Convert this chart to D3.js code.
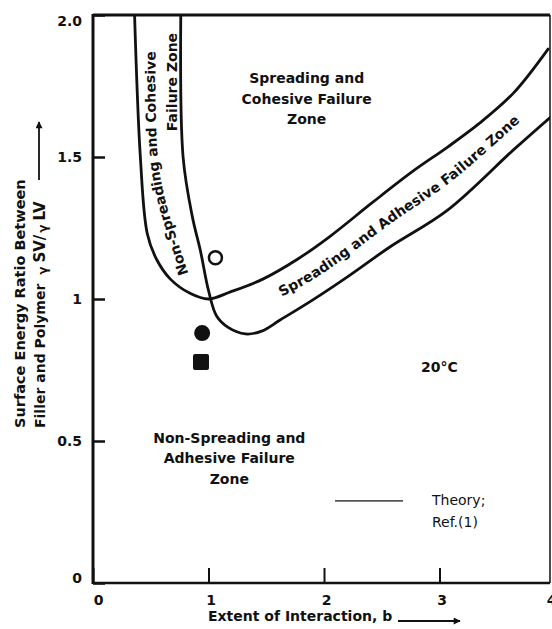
<!DOCTYPE html>
<html>
<head>
<meta charset="utf-8">
<script src="https://cdn.jsdelivr.net/npm/d3@7/dist/d3.min.js"></script>
<style>
  body { margin: 0; background: #fff; }
  text { font-family: 'DejaVu Sans', sans-serif; fill: #111; }
</style>
</head>
<body>
<div id="chart"></div>
<script>
// curve A: left wall of the cohesive band, then upper edge of the adhesive band
const curveA = [
  [0.36, 2.0], [0.41, 1.5], [0.47, 1.23], [0.55, 1.14], [0.67, 1.07],
  [0.84, 1.02], [1.0, 1.0], [1.19, 1.025], [1.47, 1.07], [1.77, 1.14],
  [2.05, 1.22], [2.42, 1.34], [2.77, 1.45], [3.07, 1.535], [3.35, 1.62],
  [3.64, 1.725], [3.94, 1.88]
]
// curve B: right wall of the cohesive band, then lower edge of the adhesive band
const curveB = [
  [0.76, 2.0], [0.78, 1.5], [0.86, 1.29], [0.93, 1.17], [1.0, 1.03],
  [1.07, 0.94], [1.17, 0.9], [1.32, 0.877], [1.46, 0.887], [1.62, 0.926],
  [1.9, 0.996], [2.2, 1.077], [2.57, 1.183], [3.07, 1.313], [3.64, 1.525],
  [3.96, 1.64]
]

// measured points
const openCircles = [[1.06, 1.145]]
const filledCircles = [[0.945, 0.88]]
const filledSquares = [[0.935, 0.778]]

const xTicks = [0, 1, 2, 3, 4]
const xTickLabels = ['0', '1', '2', '3', '4']
const yTicks = [0, 0.5, 1, 1.5, 2]
const yTickLabels = ['0', '0.5', '1', '1.5', '2.0']

const width = 552
const height = 629
const plot = { left: 93, top: 15, right: 550, bottom: 583 }

const svg = d3
  .select('#chart')
  .append('svg')
  .attr('width', width)
  .attr('height', height)

// the original is cropped a little before b = 4
const x = d3.scaleLinear().domain([0, 4]).range([plot.left, 555])
const y = d3.scaleLinear().domain([0, 2]).range([plot.bottom, plot.top])

const defs = svg.append('defs')
defs.append('clipPath')
  .attr('id', 'plot-clip')
  .append('rect')
  .attr('x', plot.left)
  .attr('y', plot.top)
  .attr('width', plot.right - plot.left)
  .attr('height', plot.bottom - plot.top)

defs.append('marker')
  .attr('id', 'arrow')
  .attr('viewBox', '0 0 10 10')
  .attr('refX', 9)
  .attr('refY', 5)
  .attr('markerWidth', 9)
  .attr('markerHeight', 7)
  .attr('markerUnits', 'userSpaceOnUse')
  .attr('orient', 'auto')
  .append('path')
  .attr('d', 'M0,0L10,5L0,10z')
  .attr('fill', '#111')

// axes
const yAxis = svg.append('g')
  .attr('transform', `translate(${plot.left},0)`)
  .call(d3.axisLeft(y)
    .tickValues(yTicks)
    .tickFormat((d, i) => yTickLabels[i])
    .tickSize(-12)
    .tickPadding(11))
yAxis.select('.domain').remove()
yAxis.selectAll('line').attr('stroke', '#111').attr('stroke-width', 2.5)
yAxis.selectAll('text')
  .attr('font-size', 14)
  .attr('font-weight', 'bold')
  .attr('font-family', 'DejaVu Sans')
  .attr('dy', (d, i) => i === 0 ? '-0.05em' : i === yTicks.length - 1 ? '0.75em' : '0.32em')

const xAxis = svg.append('g')
  .attr('transform', `translate(0,${plot.bottom})`)
  .call(d3.axisBottom(x)
    .tickValues(xTicks)
    .tickFormat((d, i) => xTickLabels[i])
    .tickSize(-15)
    .tickPadding(12))
xAxis.select('.domain').remove()
xAxis.selectAll('line').attr('stroke', '#111').attr('stroke-width', 2)
xAxis.selectAll('text')
  .attr('font-size', 14)
  .attr('font-weight', 'bold')
  .attr('font-family', 'DejaVu Sans')
  .attr('dx', (d, i) => i === 0 ? 5 : i === xTicks.length - 1 ? -4 : 2)

// frame
const frame = svg.append('g').attr('stroke', '#111').attr('fill', 'none')
frame.append('line')
  .attr('x1', plot.left).attr('x2', plot.left)
  .attr('y1', plot.top - 1).attr('y2', plot.bottom + 1)
  .attr('stroke-width', 3)
frame.append('line')
  .attr('x1', plot.left).attr('x2', plot.right)
  .attr('y1', plot.bottom).attr('y2', plot.bottom)
  .attr('stroke-width', 2.5)
frame.append('line')
  .attr('x1', plot.left).attr('x2', plot.right)
  .attr('y1', plot.top).attr('y2', plot.top)
  .attr('stroke-width', 3)
frame.append('line')
  .attr('x1', plot.right).attr('x2', plot.right)
  .attr('y1', plot.top).attr('y2', plot.bottom)
  .attr('stroke-width', 1.5)

// theory curves
const line = d3.line()
  .x(d => x(d[0]))
  .y(d => y(d[1]))
  .curve(d3.curveCatmullRom.alpha(0.5))

svg.append('g')
  .attr('clip-path', 'url(#plot-clip)')
  .selectAll('.theory')
  .data([curveA, curveB])
  .enter()
  .append('path')
  .attr('class', 'theory')
  .attr('d', line)
  .attr('fill', 'none')
  .attr('stroke', '#111')
  .attr('stroke-width', 2.8)
  .attr('stroke-linecap', 'round')

// data points
svg.selectAll('.open-pt')
  .data(openCircles)
  .enter()
  .append('circle')
  .attr('class', 'open-pt')
  .attr('cx', d => x(d[0]))
  .attr('cy', d => y(d[1]))
  .attr('r', 6.5)
  .attr('fill', '#fff')
  .attr('stroke', '#111')
  .attr('stroke-width', 2.5)

svg.selectAll('.dot-pt')
  .data(filledCircles)
  .enter()
  .append('circle')
  .attr('class', 'dot-pt')
  .attr('cx', d => x(d[0]))
  .attr('cy', d => y(d[1]))
  .attr('r', 8)
  .attr('fill', '#111')

svg.selectAll('.sq-pt')
  .data(filledSquares)
  .enter()
  .append('rect')
  .attr('class', 'sq-pt')
  .attr('x', d => x(d[0]) - 8)
  .attr('y', d => y(d[1]) - 8)
  .attr('width', 16)
  .attr('height', 16)
  .attr('rx', 2)
  .attr('fill', '#111')

// zone labels
function block (lines, bx, by, bold) {
  const t = svg.append('text')
    .attr('x', x(bx))
    .attr('y', y(by))
    .attr('text-anchor', 'middle')
    .attr('font-size', 14)
    .attr('font-weight', bold ? 'bold' : 'normal')
  lines.forEach((s, i) => {
    t.append('tspan')
      .attr('x', x(bx))
      .attr('dy', i === 0 ? 0 : 20.5)
      .text(s)
  })
  return t
}

block(['Spreading and', 'Cohesive Failure', 'Zone'], 1.85, 1.76, true)
block(['Non-Spreading and', 'Adhesive Failure', 'Zone'], 1.18, 0.493, true)
block(['20°C'], 3.0, 0.743, true)

// labels that follow the bands
const cohesiveGuide = [[0.82, 1.045], [0.69, 1.2], [0.58, 1.35], [0.52, 1.49], [0.5, 1.66], [0.5, 1.95]]
const adhesiveGuide = [[1.6, 1.02], [1.9, 1.088], [2.2, 1.173], [2.57, 1.285], [3.07, 1.426], [3.64, 1.627], [3.87, 1.711]]

const guide = d3.line()
  .x(d => x(d[0]))
  .y(d => y(d[1]))
  .curve(d3.curveCatmullRom.alpha(0.5))

defs.append('path').attr('id', 'cohesive-guide').attr('d', guide(cohesiveGuide))
defs.append('path').attr('id', 'adhesive-guide').attr('d', guide(adhesiveGuide))

svg.append('text')
  .attr('font-size', 14)
  .attr('font-weight', 'bold')
  .attr('dominant-baseline', 'central')
  .append('textPath')
  .attr('href', '#cohesive-guide')
  .attr('startOffset', '48%')
  .attr('text-anchor', 'middle')
  .text('Non-Spreading and Cohesive')

svg.append('text')
  .attr('transform', `translate(${x(0.68)},${y(1.764)}) rotate(-90)`)
  .attr('text-anchor', 'middle')
  .attr('dominant-baseline', 'central')
  .attr('font-size', 14)
  .attr('font-weight', 'bold')
  .text('Failure Zone')

svg.append('text')
  .attr('font-size', 14)
  .attr('font-weight', 'bold')
  .attr('dominant-baseline', 'central')
  .append('textPath')
  .attr('href', '#adhesive-guide')
  .attr('startOffset', 2)
  .text('Spreading and Adhesive Failure Zone')

// legend
svg.append('line')
  .attr('x1', x(2.095))
  .attr('x2', x(2.684))
  .attr('y1', y(0.289))
  .attr('y2', y(0.289))
  .attr('stroke', '#555')
  .attr('stroke-width', 1.6)

svg.append('text')
  .attr('x', x(2.935))
  .attr('y', y(0.275))
  .attr('font-size', 14)
  .text('Theory;')
svg.append('text')
  .attr('x', x(2.935))
  .attr('y', y(0.197))
  .attr('font-size', 14)
  .text('Ref.(1)')

// axis titles
svg.append('text')
  .attr('x', 208)
  .attr('y', 621)
  .attr('font-size', 14)
  .attr('font-weight', 'bold')
  .text('Extent of Interaction, b')
svg.append('line')
  .attr('x1', 398).attr('x2', 460)
  .attr('y1', 621).attr('y2', 621)
  .attr('stroke', '#111')
  .attr('stroke-width', 1.8)
  .attr('marker-end', 'url(#arrow)')

svg.append('text')
  .attr('transform', 'translate(25,428) rotate(-90)')
  .attr('font-size', 14.5)
  .attr('font-weight', 'bold')
  .text('Surface Energy Ratio Between')

const yt = svg.append('text')
  .attr('transform', 'translate(45,428) rotate(-90)')
  .attr('font-size', 14)
  .attr('font-weight', 'bold')
yt.append('tspan').text('Filler and Polymer ')
yt.append('tspan').attr('font-size', 12).attr('dx', 4).attr('dy', 2).text('γ')
yt.append('tspan').attr('font-size', 15).attr('dx', 4).attr('dy', -2).text('SV/')
yt.append('tspan').attr('font-size', 12).attr('dx', 2).attr('dy', 2).text('γ')
yt.append('tspan').attr('font-size', 15).attr('dx', 4).attr('dy', -2).text('LV')

svg.append('line')
  .attr('x1', 39).attr('x2', 39)
  .attr('y1', 180).attr('y2', 122)
  .attr('stroke', '#111')
  .attr('stroke-width', 1.8)
  .attr('marker-end', 'url(#arrow)')
</script>
</body>
</html>
